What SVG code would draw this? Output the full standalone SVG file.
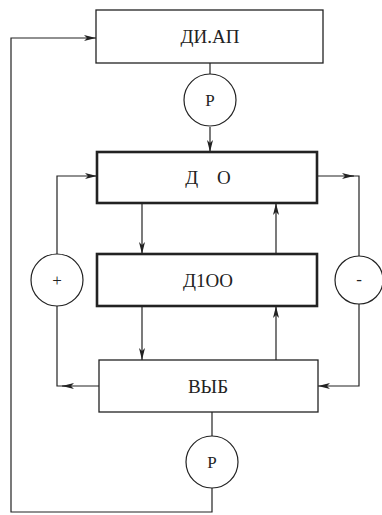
<svg xmlns="http://www.w3.org/2000/svg" width="382" height="515" viewBox="0 0 382 515">
<defs>
<marker id="ah" viewBox="0 0 12 6" refX="12" refY="3" markerWidth="12" markerHeight="6" markerUnits="userSpaceOnUse" orient="auto">
<path d="M0,0 L12,3 L0,6 L3,3 Z" fill="#222"/>
</marker>
</defs>
<style>
.box{fill:#fff;stroke:#222;stroke-width:1.3}
.thick{stroke-width:2.6}
.circ{fill:#fff;stroke:#222;stroke-width:1.2}
.ln{fill:none;stroke:#222;stroke-width:1.2}
.t{font-family:"Liberation Serif","DejaVu Serif",serif;font-size:19px;fill:#222;text-anchor:middle}
.s{font-family:"Liberation Serif","DejaVu Serif",serif;font-size:17px;fill:#222;text-anchor:middle}
</style>
<rect width="382" height="515" fill="#fff"/>
<g id="connectors">
<line class="ln" x1="210" y1="63" x2="210" y2="74"/>
<line class="ln" x1="210" y1="127" x2="210" y2="152" marker-end="url(#ah)"/>
<line class="ln" x1="142" y1="203" x2="142" y2="254" marker-end="url(#ah)"/>
<line class="ln" x1="276" y1="254" x2="276" y2="203" marker-end="url(#ah)"/>
<line class="ln" x1="142" y1="306" x2="142" y2="360" marker-end="url(#ah)"/>
<line class="ln" x1="276" y1="360" x2="276" y2="306" marker-end="url(#ah)"/>
<line class="ln" x1="99" y1="386" x2="62" y2="386" marker-end="url(#ah)"/>
<polyline class="ln" points="66,386 57,386 57,306"/>
<polyline class="ln" points="57,254 57,176 97,176" marker-end="url(#ah)"/>
<line class="ln" x1="317" y1="176" x2="354" y2="176" marker-end="url(#ah)"/>
<polyline class="ln" points="350,176 359,176 359,256"/>
<polyline class="ln" points="359,304 359,386 318,386" marker-end="url(#ah)"/>
<line class="ln" x1="212" y1="412" x2="212" y2="436"/>
<polyline class="ln" points="212,488 212,512 11,512 11,38 96,38" marker-end="url(#ah)"/>
</g>
<g id="diap">
<rect class="box" x="96" y="10" width="227" height="53"/>
<text class="t" x="210" y="43">ДИ.АП</text>
</g>
<g id="p1">
<circle class="circ" cx="210" cy="100" r="26"/>
<text class="s" x="210" y="106">P</text>
</g>
<g id="do">
<rect class="box thick" x="97" y="152" width="220" height="51"/>
<text class="t" x="208" y="184" xml:space="preserve">Д    О</text>
</g>
<g id="d100">
<rect class="box thick" x="97" y="254" width="220" height="52"/>
<text class="t" x="208" y="287">Д1ОО</text>
</g>
<g id="plus">
<circle class="circ" cx="57" cy="280" r="26"/>
<text class="s" x="57" y="286">+</text>
</g>
<g id="minus">
<circle class="circ" cx="359" cy="280" r="24"/>
<text class="s" x="359" y="285">-</text>
</g>
<g id="vyb">
<rect class="box" x="99" y="360" width="219" height="52"/>
<text class="t" x="208" y="393">ВЫБ</text>
</g>
<g id="p2">
<circle class="circ" cx="212" cy="462" r="26"/>
<text class="s" x="212" y="468">P</text>
</g>
</svg>
